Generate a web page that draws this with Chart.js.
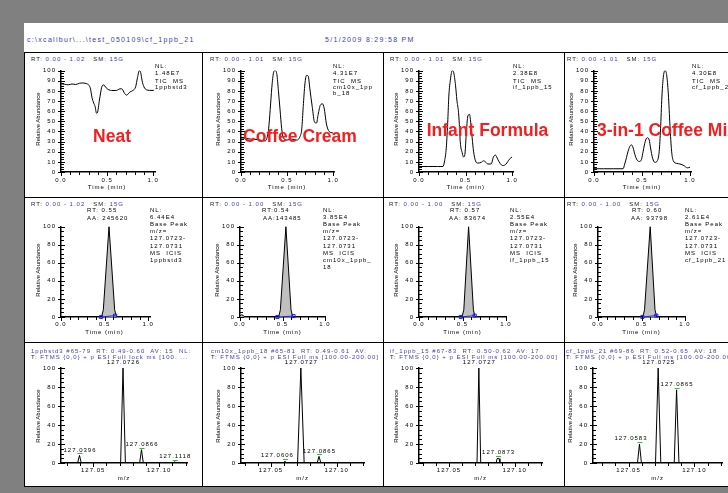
<!DOCTYPE html>
<html>
<head>
<meta charset="utf-8">
<title>cf_1ppb_21</title>
<script src="https://cdn.jsdelivr.net/npm/chart.js@4.4.1/dist/chart.umd.min.js"></script>
<style>
  html, body { margin: 0; padding: 0; background: #808080; }
  #page { position: relative; width: 728px; height: 493px; overflow: hidden; background: #808080;
          font-family: "Liberation Sans", Arial, sans-serif; }
  #sheet { position: absolute; left: 24px; top: 23px; width: 704px; height: 464px; background: #fff; }
  .cell { position: absolute; overflow: hidden; }
  .cell canvas { position: absolute; }
  .t { position: absolute; white-space: pre; font-size: 6px; line-height: 6px; letter-spacing: 1px; color: #000; }
  .t.big { font-size: 7px; line-height: 7px; letter-spacing: 1.3px; }
  .rot { position: absolute; white-space: pre; font-size: 6px; line-height: 6px; color: #000;
         transform: translate(-50%, -50%) rotate(-90deg); }
  .red { position: absolute; white-space: pre; font-weight: bold; font-size: 17.5px; line-height: 18px; color: #f02020; }
  .rule { position: absolute; background: #000; }
</style>
</head>
<body>
<div id="page">
  <div id="sheet"></div>
</div>
<script>
// ---------- data ----------
const sampleNames = ['Neat', 'Coffee Cream', 'Infant Formula', '3-in-1 Coffee Mix'];

// row 1: TIC traces, time (min) / relative abundance
const ticTimeNeat = [0.00,0.04,0.08,0.12,0.16,0.20,0.24,0.28,0.30,0.32,0.335,0.355,0.37,0.385,0.395,0.417,0.442,0.46,0.49,0.52,0.55,0.60,0.64,0.66,0.69,0.71,0.75,0.78,0.81,0.83,0.85,0.865,0.88,0.90,0.93,0.96,1.00,1.01];
const ticNeat     = [87,86.5,86,86.8,86.3,87.5,87.8,87,86,82,74,68,64.7,58,58.5,71,83.6,86,83,81,80.4,80.4,82,82,77.5,75.8,79,80.4,84,93,100,98,90,84,81,80.5,80.4,81];
const ticTimeCream = [0.00,0.10,0.19,0.26,0.28,0.30,0.317,0.335,0.353,0.37,0.39,0.406,0.424,0.442,0.46,0.50,0.55,0.60,0.64,0.66,0.676,0.694,0.712,0.73,0.748,0.773,0.80,0.82,0.838,0.863,0.885,0.903,0.928,0.957,1.00];
const ticCream     = [33.8,32.5,31.9,30.6,33,42.6,61.5,83.6,97.8,100,96,80.4,61.5,42.6,33.8,31.5,32.5,31.5,34.7,42.6,64.7,86.8,95.3,94.6,82,64.7,48.9,48.3,56.8,66.2,67.2,63,47.3,40,38.5];
const ticTimeInfant = [0.00,0.10,0.20,0.257,0.275,0.293,0.31,0.32,0.336,0.357,0.371,0.393,0.407,0.425,0.436,0.443,0.464,0.479,0.493,0.507,0.525,0.543,0.557,0.571,0.586,0.607,0.632,0.668,0.693,0.714,0.739,0.775,0.80,0.821,0.846,0.871,0.90,0.936,0.971,1.00];
const ticInfant     = [5.4,5.4,5.4,5.4,11,23.7,52,74,89.9,100,98.7,85,71,58.4,42.6,30,19,14.8,17.4,36.3,55.2,56.8,47.3,33.8,20.5,11,8.8,9.5,11,10,7.9,7.9,14.8,16.7,12.6,8.5,6.3,7.9,12.6,14.8];
const ticTimeMix = [0.00,0.10,0.20,0.303,0.32,0.338,0.355,0.373,0.39,0.408,0.425,0.449,0.477,0.495,0.512,0.533,0.554,0.575,0.589,0.61,0.634,0.659,0.679,0.693,0.707,0.721,0.739,0.756,0.774,0.791,0.808,0.826,0.861,0.895,0.937,0.972,1.00];
const ticMix     = [3.2,3.2,3.2,3.2,7.9,14.2,20.5,25.2,26.8,23.7,17.4,11.7,10.4,12.6,20.5,30,33.8,31.5,23.7,13.6,9.5,11,20.5,42.6,74,93,100,96,77,45.7,20.5,11,8.5,7.9,6.3,4.1,4.7];
const ticLevels = ['1.48E7', '4.31E7', '2.38E8', '4.30E8'];
const ticRanges = ['0.00 - 1.02', '0.00 - 1.01', '0.00 - 1.01', '0.00 -1.01'];
const ticMax = [1.02, 1.01, 1.01, 1.01];

// row 2: extracted ion chromatograms m/z 127.0723-127.0731
const eicTimeNeat = [0.00,0.465,0.485,0.55,0.615,0.635,1.02];
const eicNeat     = [0,0,8,100,8,0,0];
const eicTimeCream = [0.00,0.02,0.04,0.06,0.455,0.475,0.54,0.60,0.62,1.00];
const eicCream     = [1,2.5,1.5,0,0,8,100,8,0,0];
const eicTimeInfant = [0.00,0.495,0.515,0.57,0.625,0.645,1.00];
const eicInfant     = [0,0,8,100,8,0,0];
const eicTimeMix = [0.00,0.515,0.535,0.60,0.655,0.675,1.00];
const eicMix     = [0,0,8,100,8,0,0];
const eicBaseTime = [[0.46, 0.62], [0.44, 0.63], [0.48, 0.64], [0.51, 0.67]];
const eicBase = [[0, 1.5], [0, 1], [0, 1.5], [0, 1.5]];
const eicRT = ['RT: 0.55', 'RT:0.54', 'RT: 0.57', 'RT: 0.60'];
const eicArea = ['AA: 245620', 'AA:143485', 'AA: 83674', 'AA: 93798'];
const eicLevels = ['6.44E4', '3.85E4', '2.55E4', '2.61E4'];
const eicRanges = ['0.00 - 1.02', '0.00 - 1.00', '0.00 - 1.00', '0.00 - 1.00'];
const eicMax = [1.02, 1.00, 1.00, 1.00];

// row 3: averaged spectra, m/z / relative abundance
const msMzNeat  = [127.0256,127.0382,127.0396,127.0410,127.0708,127.0726,127.0744,127.0852,127.0866,127.0880,127.1108,127.1118,127.1128,127.1211];
const msIntNeat = [0,0,8,0,0,100,0,0,14,0,0,1.5,0,0];
const msPeakMzNeat  = [127.0396, 127.0726, 127.0866, 127.1118];
const msPeakIntNeat = [8, 100, 14, 1.5];
const msMzCream  = [127.0272,127.0594,127.0606,127.0618,127.0702,127.0727,127.0752,127.0851,127.0865,127.0879,127.1207];
const msIntCream = [0,0,2,0,0,100,0,0,7,0,0];
const msPeakMzCream  = [127.0606, 127.0727, 127.0865];
const msPeakIntCream = [2, 100, 7];
const msMzInfant  = [127.0272,127.0713,127.0727,127.0741,127.0859,127.0865,127.0873,127.0881,127.0887,127.1207];
const msIntInfant = [0,0,100,0,0,4.5,5,4.5,0,0];
const msPeakMzInfant  = [127.0727, 127.0873];
const msPeakIntInfant = [100, 5];
const msMzMix  = [127.0230,127.0568,127.0583,127.0598,127.0705,127.0725,127.0745,127.0847,127.0865,127.0883,127.1210];
const msIntMix = [0,0,20,0,0,100,0,0,77,0,0];
const msPeakMzMix  = [127.0583, 127.0725, 127.0865];
const msPeakIntMix = [20, 100, 77];
const msRangeMin = [127.0256, 127.0272, 127.0272, 127.0230];
const msRangeMax = [127.1211, 127.1207, 127.1207, 127.1210];
const msHeader1 = ['1ppbstd3 #65-79  RT: 0.49-0.60  AV: 15  NL:', 'cm10x_1ppb_18 #65-81  RT: 0.49-0.61  AV:',
                   'if_1ppb_15 #67-83  RT: 0.50-0.62  AV: 17', 'cf_1ppb_21 #69-86  RT: 0.52-0.65  AV: 18'];
const msHeader2 = ['FTMS {0,0} + p ESI Full lock ms [100. ...', 'FTMS {0,0} + p ESI Full ms [100.00-200.00]',
                   'FTMS {0,0} + p ESI Full ms [100.00-200.00]', 'FTMS {0,0} + p ESI Full ms [100.00-200.00]'];

// tick labels
const ticYTicks = [0,10,20,30,40,50,60,70,80,90,100];
const ticYLabels = ['0','10','20','30','40','50','60','70','80','90','100'];
const pctYTicks = [0,20,40,60,80,100];
const pctYLabels = ['0','20','40','60','80','100'];
const timeTicks = [0, 0.5, 1.0];
const timeLabels = ['0.0', '0.5', '1.0'];
const mzTicks = [127.05, 127.10];
const mzLabels = ['127.05', '127.10'];

const ticTimes = [ticTimeNeat, ticTimeCream, ticTimeInfant, ticTimeMix];
const ticValues = [ticNeat, ticCream, ticInfant, ticMix];
const eicTimes = [eicTimeNeat, eicTimeCream, eicTimeInfant, eicTimeMix];
const eicValues = [eicNeat, eicCream, eicInfant, eicMix];
const msMz = [msMzNeat, msMzCream, msMzInfant, msMzMix];
const msInt = [msIntNeat, msIntCream, msIntInfant, msIntMix];
const msPeakMz = [msPeakMzNeat, msPeakMzCream, msPeakMzInfant, msPeakMzMix];
const msPeakInt = [msPeakIntNeat, msPeakIntCream, msPeakIntInfant, msPeakIntMix];

// ---------- page layout ----------
const colX = [24, 202, 383, 564];
const rowY = [52, 197, 342, 487];
const BLUE = '#3c3cb4', DARK = '#222';
const tickFont = { family: '"Liberation Sans", Arial, sans-serif', size: 6 };

const page = document.getElementById('page');

function rule(x, y, w, h) {
  const d = document.createElement('div');
  d.className = 'rule';
  Object.assign(d.style, { left: x + 'px', top: y + 'px', width: w + 'px', height: h + 'px' });
  page.appendChild(d);
}

function makeCell(c, r) {
  const el = document.createElement('div');
  el.className = 'cell';
  const x = colX[c], y = rowY[r];
  const w = (c < 3 ? colX[c + 1] : 746) - x, h = rowY[r + 1] - y;
  Object.assign(el.style, { left: x + 'px', top: y + 'px', width: w + 'px', height: h + 'px' });
  page.appendChild(el);
  return { el, x, y };
}

// parts: [[text, colour], ...]; y is the text's middle
function text(cell, x, y, parts, cls) {
  const d = document.createElement('div');
  d.className = cls || 't';
  if (typeof parts === 'string') parts = [[parts, '#000']];
  parts.forEach(p => {
    const s = document.createElement('span');
    s.textContent = p[0];
    s.style.color = p[1];
    d.appendChild(s);
  });
  d.style.left = (x - cell.x) + 'px';
  d.style.top = (y - cell.y - 3) + 'px';
  cell.el.appendChild(d);
  return d;
}

function vtext(cell, x, y, str) {
  const d = document.createElement('div');
  d.className = 'rot';
  d.textContent = str;
  d.style.left = (x - cell.x) + 'px';
  d.style.top = (y - cell.y) + 'px';
  cell.el.appendChild(d);
}

function ctext(cell, x, y, str) {
  const d = text(cell, x, y, str);
  d.style.transform = 'translateX(-50%)';
}

const pts = (xs, ys) => xs.map((x, i) => ({ x: x, y: ys[i] }));

// ---------- chart plugins ----------
const spacing = {
  id: 'spacing',
  beforeDraw(chart) { chart.ctx.letterSpacing = '1px'; },
  afterDraw(chart) { chart.ctx.letterSpacing = '0px'; }
};

function tickMarks(m) {
  return {
    id: 'tickMarks',
    afterDraw(chart) {
      const { ctx, chartArea: a, scales: { x, y } } = chart;
      ctx.save();
      ctx.strokeStyle = '#000';
      ctx.lineWidth = 1;
      ctx.beginPath();
      const ny = Math.round((y.max - y.min) / m.yMinor);
      for (let i = 0; i <= ny; i++) {
        const v = y.min + i * m.yMinor;
        const py = Math.round(y.getPixelForValue(v)) + 0.5;
        const major = Math.abs(v / m.yMajor - Math.round(v / m.yMajor)) < 1e-6;
        ctx.moveTo(a.left - (major ? 3 : 0), py);
        ctx.lineTo(a.left + (major ? 4 : 3), py);
      }
      const nx = Math.round((m.xEnd - m.xStart) / m.xMinor);
      for (let i = 0; i <= nx; i++) {
        const v = m.xStart + i * m.xMinor;
        const px = Math.round(x.getPixelForValue(v)) + 0.5;
        const major = m.xMajors.some(t => Math.abs(t - v) < m.xMinor / 10);
        ctx.moveTo(px, a.bottom);
        ctx.lineTo(px, a.bottom + (major ? 4 : 3));
      }
      ctx.stroke();
      ctx.restore();
    }
  };
}

// m/z labels above centroid peaks, green centroid marks on the minor ones
function peakTags(mz, inten, shift) {
  return {
    id: 'peakTags',
    afterDatasetsDraw(chart) {
      const { ctx, scales: { x, y } } = chart;
      ctx.save();
      ctx.font = '6px "Liberation Sans", Arial, sans-serif';
      ctx.letterSpacing = '1px';
      ctx.textAlign = 'center';
      ctx.textBaseline = 'middle';
      mz.forEach((m, i) => {
        const px = x.getPixelForValue(m), py = y.getPixelForValue(inten[i]);
        if (inten[i] < 100) {
          ctx.strokeStyle = '#2fbf2f';
          ctx.lineWidth = 1;
          ctx.beginPath();
          ctx.moveTo(px - 2, Math.round(py - 2) + 0.5);
          ctx.lineTo(px + 3, Math.round(py - 2) + 0.5);
          ctx.stroke();
        }
        ctx.fillStyle = '#000';
        ctx.fillText(m.toFixed(4), px + (shift[i] || 0) + 0.5, py - 5.5);
      });
      ctx.restore();
    }
  };
}

// box: plot rectangle in page pixels
function panelChart(cell, box, o) {
  const yw = 34, xh = 16, padRight = 12;
  const l = Math.round(box.l), t = Math.round(box.t), w = Math.round(box.w), h = Math.round(box.h);
  const cv = document.createElement('canvas');
  cv.width = yw + w + padRight;
  cv.height = o.padTop + h + xh;
  cv.style.left = (l - yw - cell.x) + 'px';
  cv.style.top = (t - o.padTop - cell.y) + 'px';
  cv.style.width = cv.width + 'px';
  cv.style.height = cv.height + 'px';
  cell.el.appendChild(cv);
  const plugins = [spacing, tickMarks(o.marks)];
  if (o.tags) plugins.push(o.tags);
  new Chart(cv, {
    type: 'line',
    data: { datasets: o.datasets },
    options: {
      responsive: false,
      animation: false,
      devicePixelRatio: 1,
      layout: { padding: { top: o.padTop, right: padRight, left: 0, bottom: 0 } },
      plugins: { legend: { display: false }, tooltip: { enabled: false } },
      elements: { point: { radius: 0 } },
      scales: {
        x: {
          type: 'linear', min: o.xMin, max: o.xMax,
          afterFit: s => { s.height = xh; },
          afterBuildTicks: s => { s.ticks = o.xTicks.map(v => ({ value: v })); },
          grid: { display: false, drawTicks: false },
          border: { display: true, color: '#000', width: 1.5 },
          ticks: { autoSkip: false, maxRotation: 0, padding: o.xPad, color: '#000', font: tickFont,
                   callback: (v, i) => o.xLabels[i] }
        },
        y: {
          type: 'linear', min: 0, max: 100,
          afterFit: s => { s.width = yw; },
          afterBuildTicks: s => { s.ticks = o.yTicks.map(v => ({ value: v })); },
          grid: { display: false, drawTicks: false },
          border: { display: true, color: '#000', width: 1.5 },
          ticks: { autoSkip: false, padding: 5, color: '#000', font: tickFont,
                   callback: (v, i) => o.yLabels[i] }
        }
      }
    },
    plugins: plugins
  });
}

// ---------- header ----------
const head = { el: page, x: 0, y: 0 };
text(head, 27, 38.5, [['c:\\xcalibur\\...\\test_050109\\cf_1ppb_21', BLUE]], 't big');
text(head, 325, 38.5, [['5/1/2009 8:29:58 PM', BLUE]], 't big');

// ---------- row 1: TIC ----------
const ticBox = [{ l: 61, ppu: 92 }, { l: 241, ppu: 92 }, { l: 419, ppu: 93.5 }, { l: 594, ppu: 96 }];
const ticHeadX = [31, 210, 390, 567];
const ticNLX = [155, 333, 513, 692];
const ticNameLines = [['1ppbstd3'], ['cm10x_1pp', 'b_18'], ['if_1ppb_15'], ['cf_1ppb_21']];
const redPos = [[112, 136, 'c'], [300, 136, 'c'], [487.5, 130, 'c'], [597, 130, 'l']];

for (let i = 0; i < 4; i++) {
  const cell = makeCell(i, 0);
  const ppu = ticBox[i].ppu;
  const b = { l: ticBox[i].l, t: 66, w: ppu * ticMax[i], h: 106 };
  panelChart(cell, b, {
    padTop: 4, xMin: 0, xMax: ticMax[i], xPad: 5,
    xTicks: timeTicks, xLabels: timeLabels, yTicks: ticYTicks, yLabels: ticYLabels,
    marks: { yMinor: 2.5, yMajor: 10, xStart: 0, xEnd: 1.0, xMinor: 0.1, xMajors: timeTicks },
    datasets: [{ data: pts(ticTimes[i], ticValues[i]), borderColor: '#000', borderWidth: 1,
                 cubicInterpolationMode: 'monotone', pointRadius: 0 }]
  });
  text(cell, ticHeadX[i], 59, [['RT: ', DARK], [ticRanges[i], BLUE], ['   SM: ', DARK], ['15G', BLUE]]);
  const nl = ['NL:', ticLevels[i], 'TIC  MS'].concat(ticNameLines[i]);
  const nly = [66, 72.5, 81, 87, 93];
  nl.forEach((s, k) => text(cell, ticNLX[i], nly[k], s));
  vtext(cell, b.l - 23, b.t + b.h / 2, 'Relative Abundance');
  ctext(cell, b.l + ppu * 0.5, 187, 'Time (min)');
  const r = document.createElement('div');
  r.className = 'red';
  r.textContent = sampleNames[i];
  r.style.left = (redPos[i][0] - cell.x) + 'px';
  r.style.top = (redPos[i][1] - cell.y) + 'px';
  r.style.transform = redPos[i][2] === 'c' ? 'translate(-50%, -50%)' : 'translateY(-50%)';
  cell.el.appendChild(r);
}

// ---------- row 2: base peak chromatograms ----------
const eicBox = [{ l: 61, ppu: 87 }, { l: 240, ppu: 85 }, { l: 419, ppu: 87 }, { l: 598, ppu: 87 }];
const eicHeadX = [31, 210, 389, 567];
const eicNLX = [150, 323, 510, 685];
const eicRTX = [[87, 87], [262, 263], [450, 449], [632, 631]];
const eicNameLines = [['1ppbstd3'], ['cm10x_1ppb_', '18'], ['if_1ppb_15'], ['cf_1ppb_21']];

for (let i = 0; i < 4; i++) {
  const cell = makeCell(i, 1);
  const ppu = eicBox[i].ppu;
  const b = { l: eicBox[i].l, t: 222, w: ppu * eicMax[i], h: 95 };
  panelChart(cell, b, {
    padTop: 4, xMin: 0, xMax: eicMax[i], xPad: 4,
    xTicks: timeTicks, xLabels: timeLabels, yTicks: pctYTicks, yLabels: pctYLabels,
    marks: { yMinor: 5, yMajor: 20, xStart: 0, xEnd: 1.0, xMinor: 0.1, xMajors: timeTicks },
    datasets: [
      { data: pts(eicBaseTime[i], eicBase[i]), borderColor: '#1a1aff', borderWidth: 1, clip: false,
        pointStyle: 'rect', pointRadius: 2.2, pointBorderWidth: 1, pointBorderColor: '#1a1aff',
        pointBackgroundColor: 'rgba(0,0,0,0)' },
      { data: pts(eicTimes[i], eicValues[i]), borderColor: '#000', borderWidth: 1, pointRadius: 0,
        fill: 'origin', backgroundColor: '#c0c0c0' }
    ]
  });
  text(cell, eicHeadX[i], 204, [['RT: ', DARK], [eicRanges[i], BLUE], ['   SM: ', DARK], ['15G', BLUE]]);
  text(cell, eicRTX[i][0], 210, eicRT[i]);
  text(cell, eicRTX[i][1], 218, eicArea[i]);
  const nl = ['NL:', eicLevels[i], 'Base Peak', 'm/z=', '127.0723-', '127.0731', 'MS  ICIS'].concat(eicNameLines[i]);
  nl.forEach((s, k) => text(cell, eicNLX[i], 210 + k * 7.1, s));
  vtext(cell, b.l - 23, b.t + b.h / 2, 'Relative Abundance');
  ctext(cell, b.l + ppu * 0.5, 332, 'Time (min)');
}

// ---------- row 3: spectra ----------
const msBoxL = [61, 241, 419, 593];
const msHeadX = [31, 211, 390, 566];
const msTagShift = [[0, 0, 0, 0], [-8, 0, 0], [0, 0], [-9, 0, 0]];
const MZ_PPU = 1319;

for (let i = 0; i < 4; i++) {
  const cell = makeCell(i, 2);
  const b = { l: msBoxL[i], t: 368, w: (msRangeMax[i] - msRangeMin[i]) * MZ_PPU, h: 95 };
  panelChart(cell, b, {
    padTop: 14, xMin: msRangeMin[i], xMax: msRangeMax[i], xPad: 4,
    xTicks: mzTicks, xLabels: mzLabels, yTicks: pctYTicks, yLabels: pctYLabels,
    marks: { yMinor: 5, yMajor: 20, xStart: 127.03, xEnd: 127.12, xMinor: 0.01, xMajors: mzTicks },
    tags: peakTags(msPeakMz[i], msPeakInt[i], msTagShift[i]),
    datasets: [{ data: pts(msMz[i], msInt[i]), borderColor: '#000', borderWidth: 1, pointRadius: 0 }]
  });
  text(cell, msHeadX[i], 350.5, [[msHeader1[i], BLUE]]);
  text(cell, msHeadX[i], 357, [['T: ', DARK], [msHeader2[i], BLUE]]);
  vtext(cell, b.l - 23, b.t + b.h / 2, 'Relative Abundance');
  ctext(cell, b.l + b.w / 2, 478, 'm/z');
}

// ---------- frame lines ----------
rule(24, 52, 704, 1);
rule(24, 197, 704, 1);
rule(24, 342, 704, 1);
rule(24, 486, 704, 1);
[24, 202, 383, 564].forEach(x => rule(x, 52, 1, 435));
</script>
</body>
</html>
